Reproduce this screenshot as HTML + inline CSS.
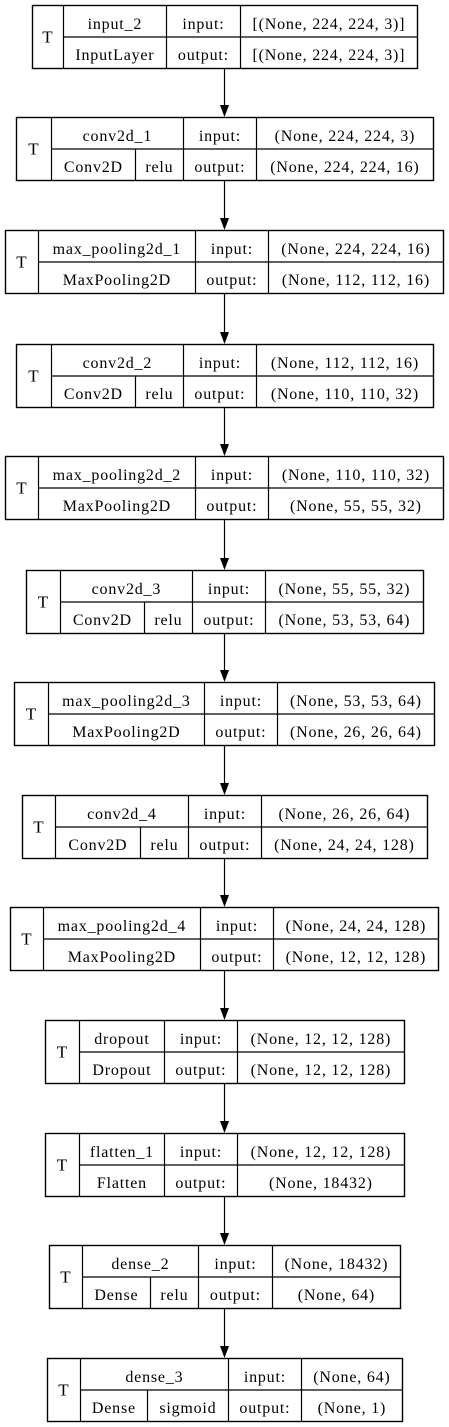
<!DOCTYPE html>
<html><head><meta charset="utf-8"><style>
html,body{margin:0;padding:0;background:#fff;}
svg{display:block;}
text{font-family:"Liberation Serif",serif;font-size:16px;letter-spacing:0.8px;fill:#000;}
</style></head><body>
<svg id="g" width="449" height="1427" viewBox="0 0 449 1427"></svg>
<script>
const names=["input_2","conv2d_1","max_pooling2d_1","conv2d_2","max_pooling2d_2","conv2d_3","max_pooling2d_3","conv2d_4","max_pooling2d_4","dropout","flatten_1","dense_2","dense_3"];
const types=["InputLayer","Conv2D","MaxPooling2D","Conv2D","MaxPooling2D","Conv2D","MaxPooling2D","Conv2D","MaxPooling2D","Dropout","Flatten","Dense","Dense"];
const acts=[null,"relu",null,"relu",null,"relu",null,"relu",null,null,null,"relu","sigmoid"];
const ins=["[(None, 224, 224, 3)]","(None, 224, 224, 3)","(None, 224, 224, 16)","(None, 112, 112, 16)","(None, 110, 110, 32)","(None, 55, 55, 32)","(None, 53, 53, 64)","(None, 26, 26, 64)","(None, 24, 24, 128)","(None, 12, 12, 128)","(None, 12, 12, 128)","(None, 18432)","(None, 64)"];
const outs=["[(None, 224, 224, 3)]","(None, 224, 224, 16)","(None, 112, 112, 16)","(None, 110, 110, 32)","(None, 55, 55, 32)","(None, 53, 53, 64)","(None, 26, 26, 64)","(None, 24, 24, 128)","(None, 12, 12, 128)","(None, 12, 12, 128)","(None, 18432)","(None, 64)","(None, 1)"];
// layout geometry: [left, right, tEnd, actSplit, nameEnd, inputEnd, top]
const geo=[[32,417,63,0,166,240,5],[16,433,51,135,183,256,117],[5,443,38,0,195,268,230],[16,433,51,135,183,256,344],[5,443,38,0,195,268,456],[26,423,60,144,192,265,570],[14,434,48,0,204,277,682],[22,427,55,140,188,261,795],[10,438,43,0,200,273,907],[45,404,79,0,164,237,1020],[45,404,79,0,164,237,1133],[49,400,82,150,198,272,1245],[47,402,80,147,228,301,1358]];
const H=63, NS="http://www.w3.org/2000/svg", svg=document.getElementById('g');
function mk(tag,attrs,parent){const e=document.createElementNS(NS,tag);for(const k in attrs)e.setAttribute(k,attrs[k]);(parent||svg).appendChild(e);return e;}
function line(x1,y1,x2,y2,p){return mk('line',{x1:x1,y1:y1,x2:x2,y2:y2,stroke:'#000','stroke-width':1.2},p);}
function txt(x,y,s,p,size){const t=mk('text',{x:x+0.4,y:y,'text-anchor':'middle'},p);if(size)t.setAttribute('style','font-size:'+size+'px');t.textContent=s;return t;}
names.forEach((n,i)=>{
  const [L,R,T,A,N,I,Y]=geo[i];
  const g=mk('g',{});
  
  
  const m=Y+H/2, b=Y+H;
  mk('rect',{x:L+0.5,y:Y+0.5,width:R-L,height:H,fill:'#fff',stroke:'#000','stroke-width':1.4},g);
  line(T+0.5,Y,T+0.5,b,g);line(N+0.5,Y,N+0.5,b,g);line(I+0.5,Y,I+0.5,b,g);
  line(T,m+0.5,R,m+0.5,g);
  if(acts[i])line(A+0.5,m,A+0.5,b,g);
  txt((L+T)/2,m+6,'T',g,17);
  txt((T+N)/2,Y+24,n,g);
  if(acts[i]){txt((T+A)/2,b-8,types[i],g);txt((A+N)/2,b-8,acts[i],g);}
  else txt((T+N)/2,b-8,types[i],g);
  txt((N+I)/2,Y+24,'input:',g);txt((N+I)/2,b-8,'output:',g);
  txt((I+R)/2,Y+24,ins[i],g);txt((I+R)/2,b-8,outs[i],g);
  if(i<names.length-1){
    const a=mk('g',{});
    
    
    const ny=geo[i+1][6];
    line(224.5,b+1,224.5,ny-10,a);
    mk('polygon',{points:`220,${ny-12} 229,${ny-12} 224.5,${ny}`,fill:'#000'},a);
  }
});
</script>
</body></html>
